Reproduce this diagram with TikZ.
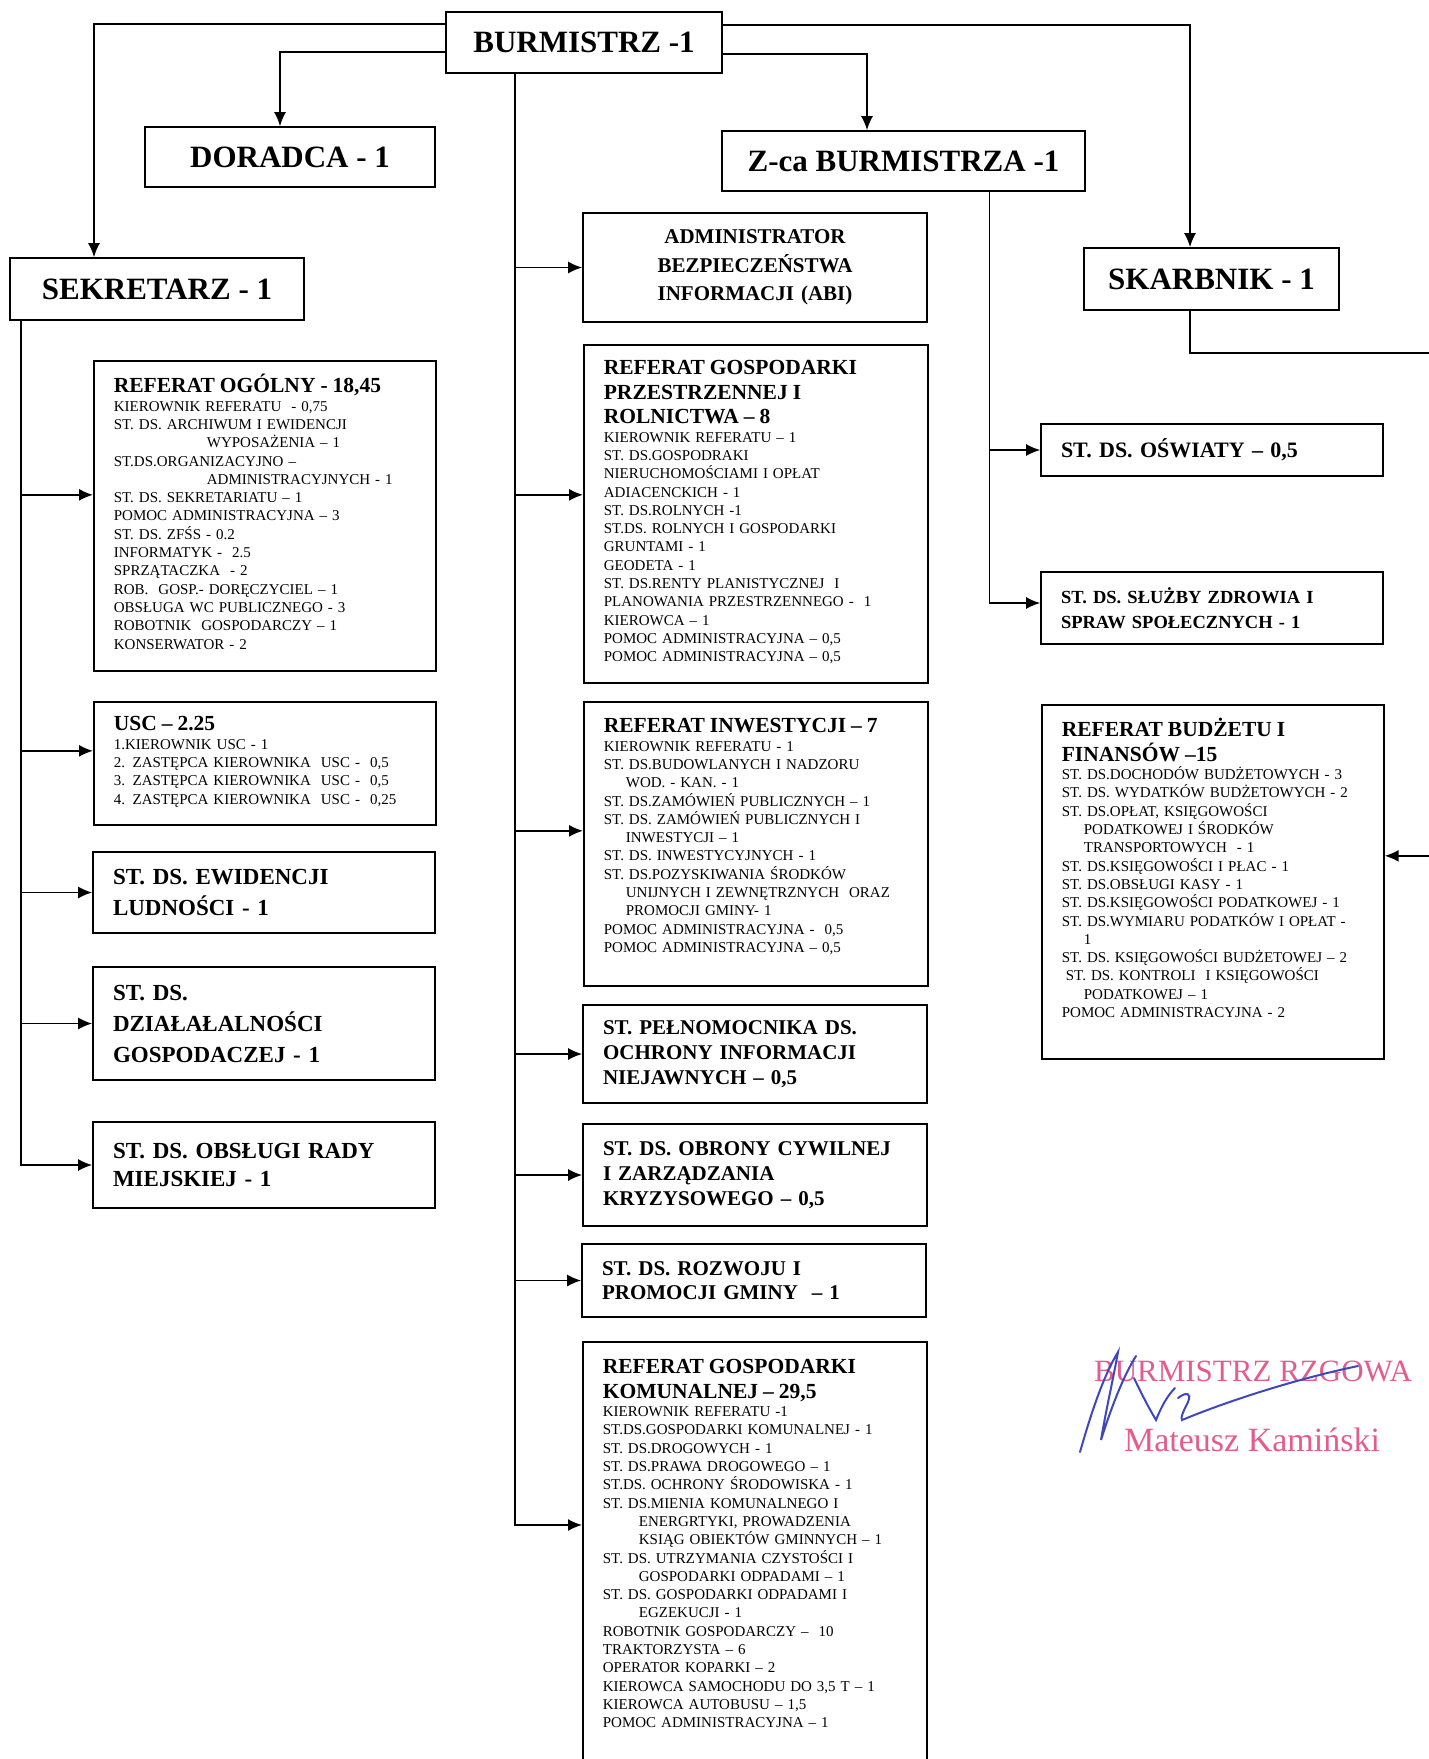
\documentclass[tikz,border=0pt]{standalone}
\usepackage{fontspec}
\setmainfont{Liberation Serif}
\usepackage{tikz}
\usetikzlibrary{arrows.meta}
\definecolor{stamppink}{RGB}{228,92,140}
\definecolor{ink}{RGB}{62,72,188}
\newcommand{\titlefont}{\fontsize{31}{36}\selectfont\bfseries}
\newcommand{\abifont}{\fontsize{21}{28.6}\selectfont\bfseries}
\newcommand{\bodyfont}{\fontsize{15}{18.3}\selectfont}
\newcommand{\refheadfont}{\fontsize{21.5}{24.5}\selectfont\bfseries}
\newcommand{\leftfont}{\fontsize{23}{31}\selectfont\bfseries}
\newcommand{\midfont}{\fontsize{21}{24.7}\selectfont\bfseries}
\newcommand{\refhead}[1]{{\refheadfont #1\par}}
\tikzset{
	box/.style={draw, line width=1.7pt, rectangle, inner xsep=20pt, inner ysep=0pt},
	topbox/.style={box, font=\titlefont},
	refbox/.style={box, anchor=north west, align=left, text width=302pt, font=\bodyfont},
	stbox/.style={box, align=left, text width=302pt},
	edge/.style={->, > = {Latex[length=14pt,width=12pt]}, line width=1.6pt},
	stamp/.style={text=stamppink, inner sep=0pt},
	signature/.style={draw=ink, line width=2pt, line cap=round}
}

\begin{document}
\begin{tikzpicture}[x=1pt,y=-1pt]
	\useasboundingbox (0,0) rectangle (1429,1759);
	\clip (0,0) rectangle (1429,1759);
	
	% top level
	\node[topbox, minimum width=276pt, minimum height=61pt] (burm) at (584, 42.5) {BURMISTRZ -1};
	\node[topbox, minimum width=290pt, minimum height=60pt] (doradca) at (290, 157) {DORADCA - 1};
	\node[topbox, minimum width=363pt, minimum height=60pt] (zca) at (903.5, 161) {Z-ca BURMISTRZA -1};
	\node[topbox, minimum width=294pt, minimum height=62pt] (sekretarz) at (157, 289) {SEKRETARZ - 1};
	\node[topbox, minimum width=255pt, minimum height=62pt] (skarbnik) at (1211.5, 279) {SKARBNIK - 1};
	
	% sekretarz
	\node[refbox, text height=32pt, text depth=278pt] (ogolny) at (93, 360) {%
		\refhead{REFERAT OGÓLNY - 18,45}
		KIEROWNIK REFERATU \ - 0,75\\
		ST. DS. ARCHIWUM I EWIDENCJI\\
		\hspace*{93pt}WYPOSAŻENIA – 1\\
		ST.DS.ORGANIZACYJNO –\\
		\hspace*{93pt}ADMINISTRACYJNYCH - 1\\
		ST. DS. SEKRETARIATU – 1\\
		POMOC ADMINISTRACYJNA – 3\\
		ST. DS. ZFŚS - 0.2\\
		INFORMATYK - \ 2.5\\
		SPRZĄTACZKA \ - 2\\
		ROB. \ GOSP.- DORĘCZYCIEL – 1\\
		OBSŁUGA WC PUBLICZNEGO - 3\\
		ROBOTNIK \ GOSPODARCZY – 1\\
		KONSERWATOR - 2};
	\node[refbox, text height=29pt, text depth=94pt] (usc) at (93, 701) {%
		\refhead{USC – 2.25}
		1.KIEROWNIK USC - 1\\
		2. ZASTĘPCA KIEROWNIKA \ USC - \ 0,5\\
		3. ZASTĘPCA KIEROWNIKA \ USC - \ 0,5\\
		4. ZASTĘPCA KIEROWNIKA \ USC - \ 0,25};
	\node[stbox, minimum width=342pt, minimum height=81pt, font=\leftfont] (ewid) at (264, 892.5) {ST. DS. EWIDENCJI\\ LUDNOŚCI - 1};
	\node[stbox, minimum width=342pt, minimum height=113pt, font=\leftfont] (dzial) at (264, 1023.5) {ST. DS.\\ DZIAŁAŁALNOŚCI\\ GOSPODACZEJ - 1};
	\node[stbox, minimum width=342pt, minimum height=86pt, font={\fontsize{23}{28}\selectfont\bfseries}] (rada) at (264, 1165) {ST. DS. OBSŁUGI RADY\\ MIEJSKIEJ - 1};
	
	% burmistrz
	\node[box, align=center, text width=304pt, minimum height=109pt, font=\abifont] (abi) at (755, 267.5) {ADMINISTRATOR\\ BEZPIECZEŃSTWA\\ INFORMACJI (ABI)};
	\node[refbox, text width=304pt, text height=30pt, text depth=308pt] (przestrz) at (583, 344) {%
		\refhead{REFERAT GOSPODARKI\\ PRZESTRZENNEJ I\\ ROLNICTWA – 8}
		KIEROWNIK REFERATU – 1\\
		ST. DS.GOSPODRAKI\\
		NIERUCHOMOŚCIAMI I OPŁAT\\
		ADIACENCKICH - 1\\
		ST. DS.ROLNYCH -1\\
		ST.DS. ROLNYCH I GOSPODARKI\\
		GRUNTAMI - 1\\
		GEODETA - 1\\
		ST. DS.RENTY PLANISTYCZNEJ \ I\\
		PLANOWANIA PRZESTRZENNEGO - \ 1\\
		KIEROWCA – 1\\
		POMOC ADMINISTRACYJNA – 0,5\\
		POMOC ADMINISTRACYJNA – 0,5};
	\node[refbox, text width=304pt, text height=31pt, text depth=253pt] (inwest) at (583, 701) {%
		\refhead{REFERAT INWESTYCJI – 7}
		KIEROWNIK REFERATU - 1\\
		ST. DS.BUDOWLANYCH I NADZORU\\
		\hspace*{22pt}WOD. - KAN. - 1\\
		ST. DS.ZAMÓWIEŃ PUBLICZNYCH – 1\\
		ST. DS. ZAMÓWIEŃ PUBLICZNYCH I\\
		\hspace*{22pt}INWESTYCJI – 1\\
		ST. DS. INWESTYCYJNYCH - 1\\
		ST. DS.POZYSKIWANIA ŚRODKÓW\\
		\hspace*{22pt}UNIJNYCH I ZEWNĘTRZNYCH \ ORAZ\\
		\hspace*{22pt}PROMOCJI GMINY- 1\\
		POMOC ADMINISTRACYJNA - \ 0,5\\
		POMOC ADMINISTRACYJNA – 0,5};
	\node[stbox, text width=304pt, minimum width=344pt, minimum height=98pt, font=\midfont] (pelnom) at (755, 1054) {ST. PEŁNOMOCNIKA DS.\\ OCHRONY INFORMACJI\\ NIEJAWNYCH – 0,5};
	\node[stbox, text width=304pt, minimum width=344pt, minimum height=102pt, font=\midfont] (obrony) at (755, 1175) {ST. DS. OBRONY CYWILNEJ\\ I ZARZĄDZANIA\\ KRYZYSOWEGO – 0,5};
	\node[stbox, text width=304pt, minimum width=344pt, minimum height=73pt, font=\midfont] (rozwoj) at (754, 1280.5) {ST. DS. ROZWOJU I\\ PROMOCJI GMINY \ – 1};
	\node[refbox, text width=304pt, text height=32pt, text depth=417pt] (komun) at (582, 1341) {%
		\refhead{REFERAT GOSPODARKI\\ KOMUNALNEJ – 29,5}
		KIEROWNIK REFERATU -1\\
		ST.DS.GOSPODARKI KOMUNALNEJ - 1\\
		ST. DS.DROGOWYCH - 1\\
		ST. DS.PRAWA DROGOWEGO – 1\\
		ST.DS. OCHRONY ŚRODOWISKA - 1\\
		ST. DS.MIENIA KOMUNALNEGO I\\
		\hspace*{36pt}ENERGRTYKI, PROWADZENIA\\
		\hspace*{36pt}KSIĄG OBIEKTÓW GMINNYCH – 1\\
		ST. DS. UTRZYMANIA CZYSTOŚCI I\\
		\hspace*{36pt}GOSPODARKI ODPADAMI – 1\\
		ST. DS. GOSPODARKI ODPADAMI I\\
		\hspace*{36pt}EGZEKUCJI - 1\\
		ROBOTNIK GOSPODARCZY – \ 10\\
		TRAKTORZYSTA – 6\\
		OPERATOR KOPARKI – 2\\
		KIEROWCA SAMOCHODU DO 3,5 T – 1\\
		KIEROWCA AUTOBUSU – 1,5\\
		POMOC ADMINISTRACYJNA – 1};
	
	% z-ca and skarbnik
	\node[stbox, minimum width=342pt, minimum height=52pt, font={\fontsize{22}{26}\selectfont\bfseries}] (oswiaty) at (1212, 450) {ST. DS. OŚWIATY – 0,5};
	\node[stbox, minimum width=342pt, minimum height=72pt, font={\fontsize{18.5}{25}\selectfont\bfseries}] (zdrowie) at (1212, 608) {ST. DS. SŁUŻBY ZDROWIA I\\ SPRAW SPOŁECZNYCH - 1};
	\node[refbox, text height=32pt, text depth=322pt] (budzet) at (1041, 704) {%
		\refhead{REFERAT BUDŻETU I\\ FINANSÓW –15}
		ST. DS.DOCHODÓW BUDŻETOWYCH - 3\\
		ST. DS. WYDATKÓW BUDŻETOWYCH - 2\\
		ST. DS.OPŁAT, KSIĘGOWOŚCI\\
		\hspace*{22pt}PODATKOWEJ I ŚRODKÓW\\
		\hspace*{22pt}TRANSPORTOWYCH \ - 1\\
		ST. DS.KSIĘGOWOŚCI I PŁAC - 1\\
		ST. DS.OBSŁUGI KASY - 1\\
		ST. DS.KSIĘGOWOŚCI PODATKOWEJ - 1\\
		ST. DS.WYMIARU PODATKÓW I OPŁAT -\\
		\hspace*{22pt}1\\
		ST. DS. KSIĘGOWOŚCI BUDŻETOWEJ – 2\\
		\hspace*{4pt}ST. DS. KONTROLI \ I KSIĘGOWOŚCI\\
		\hspace*{22pt}PODATKOWEJ – 1\\
		POMOC ADMINISTRACYJNA - 2};
	
	\coordinate (ctr) at ([xshift=70pt]burm.south west);
	\coordinate (sek) at ([xshift=12pt]sekretarz.south west);
	\coordinate (zc) at ([xshift=-96.5pt]zca.south east);
	\coordinate (rim) at (1460, 353);
	
	\draw[edge] ([yshift=-13pt]burm.north west) -| ([xshift=-63pt]sekretarz.north);
	\draw[edge] ([yshift=-41pt]burm.north west) -| ([xshift=-10pt]doradca.north);
	\draw[edge] ([yshift=-14pt]burm.north east) -| ([xshift=-21.5pt]skarbnik.north);
	\draw[edge] ([yshift=-43pt]burm.north east) -| ([xshift=-36.5pt]zca.north);
	
	\draw[edge] (sek) |- (rada.west);
	\draw[edge] ([yshift=21pt]ogolny.west -| sek) -- ([yshift=21pt]ogolny.west);
	\draw[edge] ([yshift=12.5pt]usc.west -| sek) -- ([yshift=12.5pt]usc.west);
	\draw[edge] (ewid.west -| sek) -- (ewid.west);
	\draw[edge] (dzial.west -| sek) -- (dzial.west);
	
	\draw[edge] (ctr) |- ([yshift=-184pt]komun.north west);
	\draw[edge] (abi.west -| ctr) -- (abi.west);
	\draw[edge] ([yshift=19pt]przestrz.west -| ctr) -- ([yshift=19pt]przestrz.west);
	\draw[edge] ([yshift=13pt]inwest.west -| ctr) -- ([yshift=13pt]inwest.west);
	\draw[edge] (pelnom.west -| ctr) -- (pelnom.west);
	\draw[edge] (obrony.west -| ctr) -- (obrony.west);
	\draw[edge] (rozwoj.west -| ctr) -- (rozwoj.west);
	
	\draw[edge] (zc) |- ([yshift=5pt]zdrowie.west);
	\draw[edge] (oswiaty.west -| zc) -- (oswiaty.west);
	
	\draw[edge] ([xshift=-21.5pt]skarbnik.south) |- (rim) |- ([yshift=26pt]budzet.east);
	
	% stamp
	\node[stamp, font={\fontsize{31}{36}\selectfont}] (stampa) at (1253, 1371) {BURMISTRZ RZGOWA};
	\node[stamp, font={\fontsize{34}{40}\selectfont}] (stampb) at (1252, 1440) {Mateusz Kamiński};
	\draw[signature] (1080,1452) .. controls (1092,1410) and (1104,1375) .. (1118,1352) .. controls (1112,1385) and (1106,1410) .. (1101,1440) .. controls (1112,1405) and (1124,1375) .. (1136,1356);
	\draw[signature] (1134,1378) .. controls (1142,1395) and (1150,1410) .. (1156,1420) .. controls (1162,1405) and (1168,1395) .. (1175,1388);
	\draw[signature] (1178,1398) .. controls (1186,1392) and (1192,1392) .. (1188,1402) .. controls (1184,1410) and (1180,1418) .. (1182,1420) .. controls (1230,1400) and (1300,1378) .. (1358,1366);
\end{tikzpicture}
\end{document}
